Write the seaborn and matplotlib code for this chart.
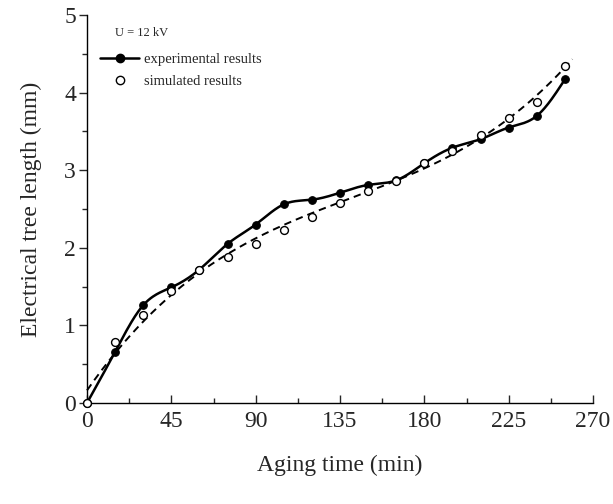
import numpy as np
import pandas as pd
import matplotlib
matplotlib.use("Agg")
import matplotlib.pyplot as plt
from matplotlib.lines import Line2D
from matplotlib.ticker import MultipleLocator
import seaborn as sns

# ---- data ----
time_min = [0, 15, 30, 45, 60, 75, 90, 105, 120, 135, 150, 165, 180, 195, 210, 225, 240, 255]
experimental = [0, 0.66, 1.26, 1.49, 1.72, 2.05, 2.30, 2.56, 2.62, 2.71, 2.81, 2.87, 3.09,
                3.29, 3.40, 3.55, 3.70, 4.17]
simulated = [0, 0.78, 1.13, 1.44, 1.72, 1.88, 2.05, 2.23, 2.40, 2.58, 2.73, 2.86, 3.09,
             3.25, 3.45, 3.67, 3.88, 4.34]
x_ticks = [0, 45, 90, 135, 180, 225, 270]
y_ticks = [0, 1, 2, 3, 4, 5]
voltage_label = "U = 12 kV"
series_labels = ["experimental results", "simulated results"]


def natural_cubic_spline(x, y, xs):
    x = np.asarray(x, float)
    y = np.asarray(y, float)
    n = len(x)
    h = np.diff(x)
    A = np.zeros((n, n))
    b = np.zeros(n)
    A[0, 0] = 1
    A[-1, -1] = 1
    for i in range(1, n - 1):
        A[i, i - 1] = h[i - 1]
        A[i, i] = 2 * (h[i - 1] + h[i])
        A[i, i + 1] = h[i]
        b[i] = 3 * ((y[i + 1] - y[i]) / h[i] - (y[i] - y[i - 1]) / h[i - 1])
    c = np.linalg.solve(A, b)
    out = np.empty_like(xs, dtype=float)
    for k, xv in enumerate(xs):
        i = min(max(np.searchsorted(x, xv) - 1, 0), n - 2)
        dx = xv - x[i]
        bi = (y[i + 1] - y[i]) / h[i] - h[i] * (2 * c[i] + c[i + 1]) / 3
        di = (c[i + 1] - c[i]) / (3 * h[i])
        out[k] = y[i] + bi * dx + c[i] * dx ** 2 + di * dx ** 3
    return out


df = pd.DataFrame({"time": time_min, "exp": experimental, "sim": simulated})

xs_solid = np.linspace(time_min[0], time_min[-1], 400)
solid_df = pd.DataFrame({"time": xs_solid, "val": natural_cubic_spline(time_min, experimental, xs_solid)})

coef = np.polyfit(time_min, simulated, 3)
xs_dash = np.linspace(0, 259, 400)
dash_df = pd.DataFrame({"time": xs_dash, "val": np.polyval(coef, xs_dash)})

sns.set_style("ticks")
plt.rcParams["font.family"] = ["Liberation Serif", "DejaVu Serif"]

fig = plt.figure(figsize=(6.13, 5.04), dpi=100)
ax = fig.add_axes([87 / 613, 1 - 403 / 504, (593 - 87) / 613, (403 - 15) / 504])

sns.lineplot(data=dash_df, x="time", y="val", ax=ax, color="black", lw=1.4,
             linestyle=(0, (3.8, 2.6)), clip_on=False)
sns.lineplot(data=solid_df, x="time", y="val", ax=ax, color="black", lw=1.8, clip_on=False)
sns.scatterplot(data=df, x="time", y="exp", ax=ax, color="black", s=30, marker="o",
                edgecolor="black", linewidth=0.8, zorder=4, clip_on=False)
sns.scatterplot(data=df, x="time", y="sim", ax=ax, color="white", s=32, marker="o",
                edgecolor="black", linewidth=1.0, zorder=5, clip_on=False)

ax.set_xlim(0, 270)
ax.set_ylim(0, 5)
ax.set_xticks(x_ticks)
ax.set_yticks(y_ticks)
ax.xaxis.set_minor_locator(MultipleLocator(22.5))
ax.yaxis.set_minor_locator(MultipleLocator(0.5))
ax.tick_params(axis="x", which="major", direction="in", length=6, width=1, labelsize=17, pad=6)
ax.tick_params(axis="x", which="minor", direction="in", length=3.5, width=1)
ax.tick_params(axis="y", which="major", direction="out", length=6, width=1, labelsize=17, pad=2)
ax.tick_params(axis="y", which="minor", direction="out", length=3.5, width=1)
for s in ["top", "right"]:
    ax.spines[s].set_visible(False)
for s in ["left", "bottom"]:
    ax.spines[s].set_linewidth(1.0)
    ax.spines[s].set_color("black")

ax.set_xlabel("Aging time (min)", fontsize=17, labelpad=16)
ax.set_ylabel("Electrical tree length (mm)", fontsize=17, labelpad=16)

handles = [
    Line2D([0], [0], color="black", lw=1.8, marker="o", markersize=6,
           markerfacecolor="black", markeredgecolor="black"),
    Line2D([0], [0], color="none", marker="o", markersize=6,
           markerfacecolor="white", markeredgecolor="black"),
]
leg = ax.legend(handles, series_labels, loc="upper left",
                bbox_to_anchor=((100 - 87) / 506, 1 - (53 - 15) / 388), frameon=False,
                fontsize=10.5, handlelength=2.7, handletextpad=0.3,
                labelspacing=0.58, borderaxespad=0.0, borderpad=0.0)
ax.text((115 - 87) / 506, 1 - (33 - 15) / 388, voltage_label, transform=ax.transAxes,
        fontsize=9, ha="left", va="center")

fig.savefig("out.png", dpi=100)
